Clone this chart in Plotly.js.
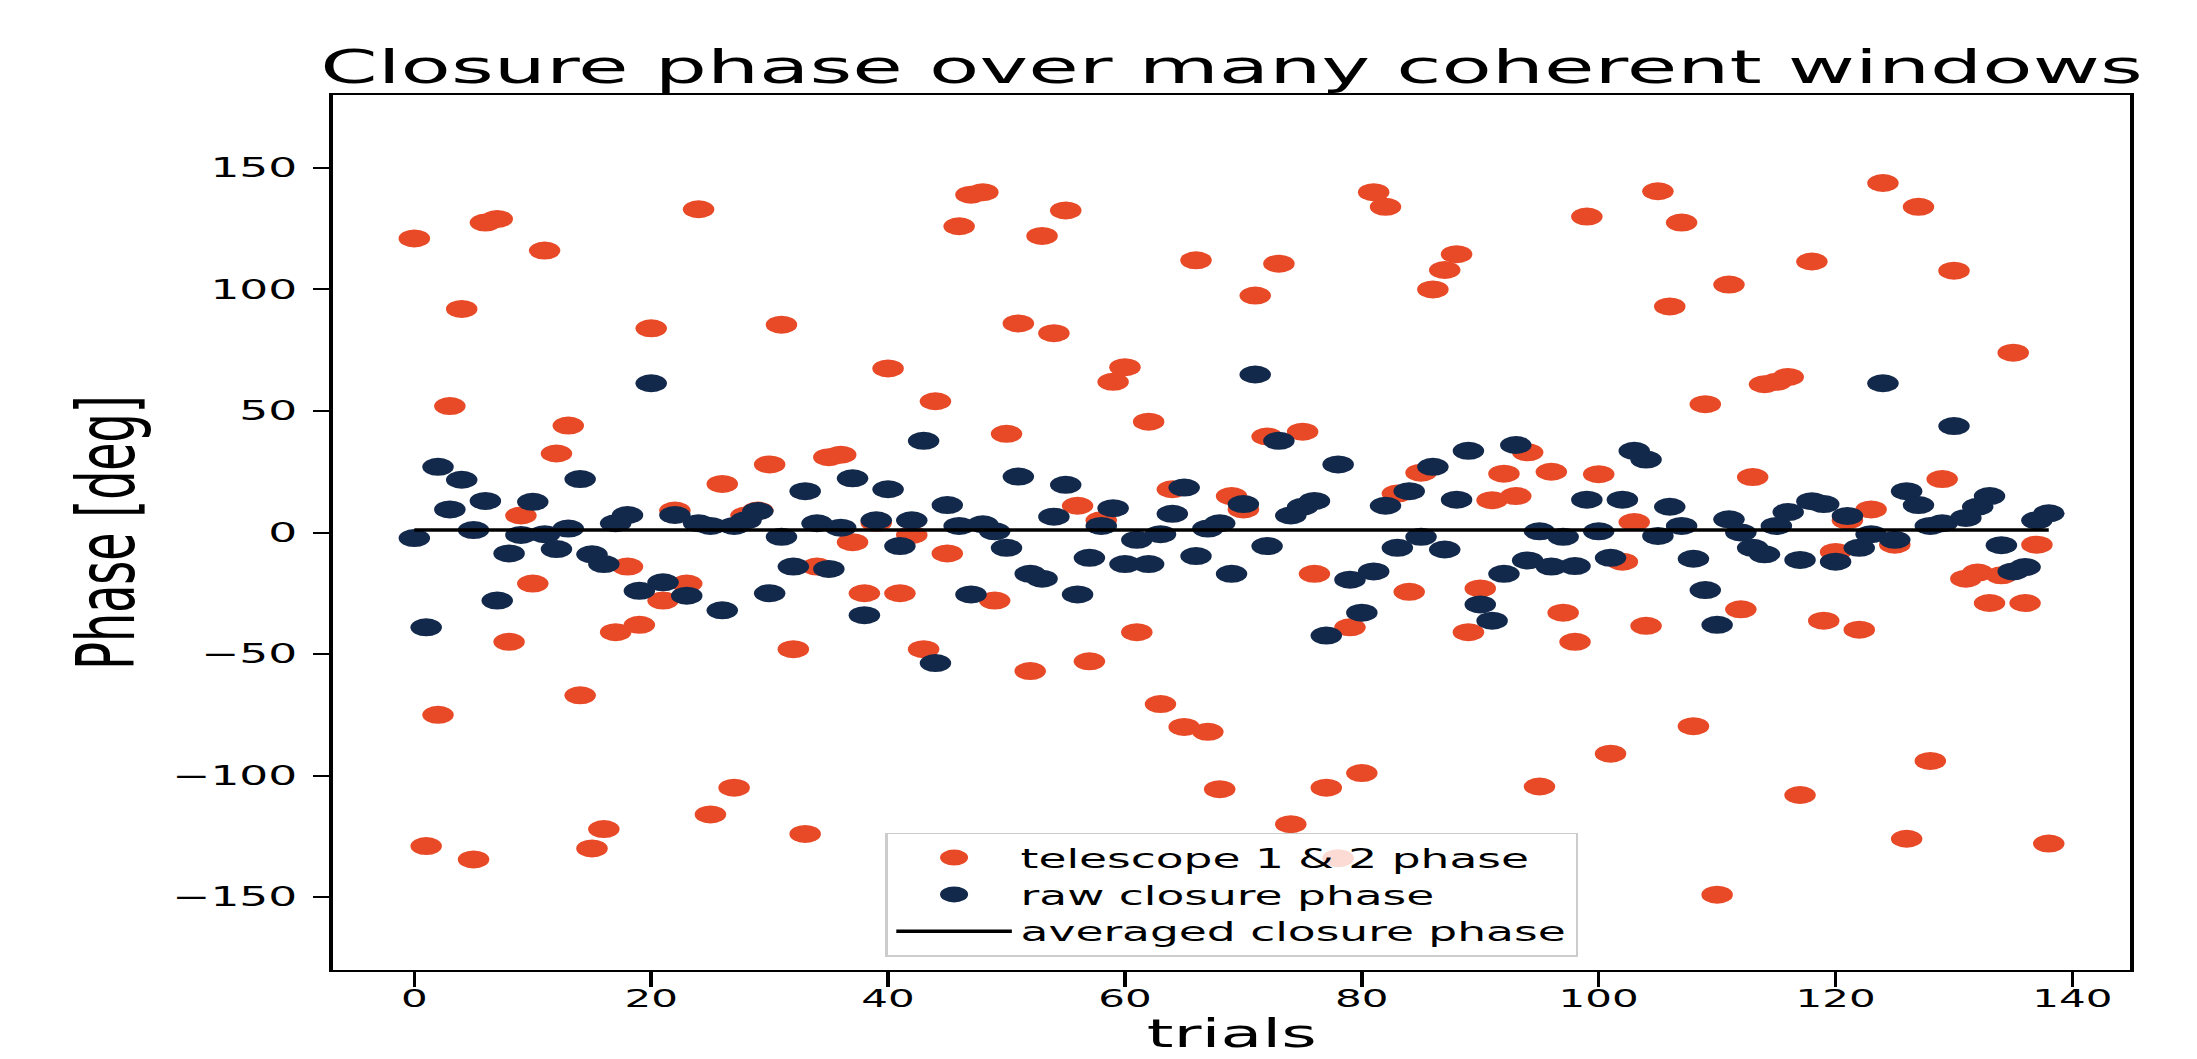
<!DOCTYPE html>
<html>
<head>
<meta charset="utf-8">
<script src="https://cdn.plot.ly/plotly-3.0.1.min.js"></script>
<style>
  html, body { margin: 0; padding: 0; background: #ffffff; }
  #wrap { width: 2197px; height: 1059px; overflow: hidden; position: relative; }
  #chart { width: 1255px; height: 1059px; transform: scaleX(1.7506); transform-origin: 0 0; }
</style>
</head>
<body>
<div id="wrap"><div id="chart"></div></div>
<script>
// ---- data ----
const trials = [
  0,1,2,3,4,5,6,7,8,9,10,11,12,13,14,15,16,17,18,19,
  20,21,22,23,24,25,26,27,28,29,30,31,32,33,34,35,36,37,38,39,
  40,41,42,43,44,45,46,47,48,49,50,51,52,53,54,55,56,57,58,59,
  60,61,62,63,64,65,66,67,68,69,70,71,72,73,74,75,76,77,78,79,
  80,81,82,83,84,85,86,87,88,89,90,91,92,93,94,95,96,97,98,99,
  100,101,102,103,104,105,106,107,108,109,110,111,112,113,114,115,116,117,118,119,
  120,121,122,123,124,125,126,127,128,129,130,131,132,133,134,135,136,137,138
];

const telescope12Phase = [
  121, -129, -75, 52, 92, -134.5, 127.5, 129, -45, 7,
  -21, 116, 32.5, 44, -67, -130, -122, -41, -14, -38,
  84, -28, 9, -21, 133, -116, 20, -105, 7, 9,
  28, 85.5, -48, -124, -14, 31, 32, -4, -25, 4,
  67.5, -25, -1, -48, 54, -8.6, 126, 139, 140, -28,
  40.6, 86, -57, 122, 82, 132.5, 11, -53, 5, 62,
  68, -41, 45.6, -70.6, 17.8, -80, 112, -82, -105.6, 15,
  9.5, 97.5, 39.5, 110.6, -120, 41.5, -17, -105, -134, -39,
  -99, 140, 134, 16, -24.4, 24.6, 100, 108, 114.5, -41,
  -23, 13.3, 24.2, 15, 33, -104.5, 25, -33, -45, 130,
  24, -91, -12, 4.3, -38.4, 140.4, 93, 127.5, -79.7, 52.8,
  -149, 102, -31.6, 22.8, 61, 62, 64, -108, 111.5, -36.3,
  -8, 5, -40, 9.5, 143.8, -5, -126, 134, -94, 22,
  107.7, -19, -16.5, -29, -17.6, 74, -29, -5, -128
];

const rawClosurePhase = [
  -2.3, -39, 27, 9.5, 21.7, 1, 13, -28, -8.6, -1,
  12.6, -0.7, -6.8, 1.6, 22, -9, -13, 3.8, 7.2, -24,
  61.4, -20.5, 7.2, -26, 3.8, 2.7, -32, 2.7, 5, 8.8,
  -25, -1.8, -14, 17, 3.8, -15, 2, 22.3, -34, 5,
  17.8, -5.6, 5, 37.7, -53.7, 11.3, 2.7, -25.5, 3.4, 0.5,
  -6.3, 23, -17, -19, 6.5, 19.6, -25.5, -10.4, 2.7, 10,
  -13, -3, -13, -0.7, 7.7, 18.5, -9.7, 1.6, 3.8, -17,
  11.7, 65, -5.6, 37.7, 7, 10.6, 13, -42.4, 28, -19.4,
  -33, -16, 11, -6.3, 17, -1.8, 27, -7, 13.5, 33.6,
  -29.6, -36.3, -17, 36, -11.5, 0.5, -14, -1.8, -13.8, 13.5,
  0.5, -10.4, 13.5, 33.6, 30, -1.4, 10.6, 2.7, -10.8, -23.7,
  -38, 5.4, 0, -6.3, -9, 2.7, 8.4, -11.3, 12.9, 11.7,
  -12, 6.8, -6.3, -0.7, 61.4, -3, 17, 11.3, 2.7, 3.8,
  43.8, 6, 10.6, 15, -5.2, -16, -14.2, 5, 7.9
];

const avgTrials = [0, 138];
const avgClosurePhase = [1, 1];

const xTickVals = [0, 20, 40, 60, 80, 100, 120, 140];
const yTickVals = [-150, -100, -50, 0, 50, 100, 150];

const seriesNames = ['telescope 1 &amp; 2 phase', 'raw closure phase', 'averaged closure phase'];
const xAxisTitle = 'trials';

// ---- styling ----
const FONT = 'DejaVu Sans, Verdana, sans-serif';
const ORANGE = '#E84A27';
const NAVY = '#13294B';

const traces = [
  {
    type: 'scatter', mode: 'markers', name: seriesNames[0],
    x: trials, y: telescope12Phase,
    marker: { color: ORANGE, size: 18, line: { width: 0 } }
  },
  {
    type: 'scatter', mode: 'markers', name: seriesNames[1],
    x: trials, y: rawClosurePhase,
    marker: { color: NAVY, size: 18, line: { width: 0 } }
  },
  {
    type: 'scatter', mode: 'lines', name: seriesNames[2],
    x: avgTrials, y: avgClosurePhase,
    line: { color: '#000000', width: 3.5 }
  }
];

const layout = {
  width: 1255, height: 1059,
  paper_bgcolor: '#ffffff', plot_bgcolor: '#ffffff',
  margin: { l: 190, r: 38, t: 95, b: 89, pad: 0 },
  font: { family: FONT, color: '#000000', size: 26 },
  title: {
    text: 'Closure phase over many coherent windows',
    font: { family: FONT, size: 47, color: '#000000' },
    x: 0.5, xref: 'paper', xanchor: 'center',
    y: 1, yref: 'paper', yanchor: 'bottom',
    pad: { b: 12 }
  },
  xaxis: {
    range: [-6.9, 144.9],
    tickmode: 'array', tickvals: xTickVals,
    ticks: 'outside', ticklen: 15, tickwidth: 2, tickcolor: '#000',
    ticklabelstandoff: -9,
    tickfont: { family: FONT, size: 24, color: '#000' },
    showline: true, linecolor: '#000', linewidth: 2, mirror: true,
    showgrid: false, zeroline: false, automargin: false
  },
  yaxis: {
    range: [-180, 180],
    tickmode: 'array', tickvals: yTickVals,
    ticks: 'outside', ticklen: 9, tickwidth: 2, tickcolor: '#000',
    ticklabelstandoff: 4,
    tickfont: { family: FONT, size: 26, color: '#000' },
    showline: true, linecolor: '#000', linewidth: 2, mirror: true,
    showgrid: false, zeroline: false, automargin: false,
    title: { text: 'Phase [deg]', font: { family: FONT, size: 46, color: '#000' }, standoff: 7 }
  },
  annotations: [
    {
      text: xAxisTitle, showarrow: false,
      xref: 'paper', yref: 'paper', x: 0.5, y: -0.1,
      xanchor: 'center', yanchor: 'bottom',
      font: { family: FONT, size: 39, color: '#000' }
    }
  ],
  showlegend: true,
  legend: {
    x: 0.5, xanchor: 'center', xref: 'paper',
    y: 0.0152, yanchor: 'bottom', yref: 'paper',
    bgcolor: 'rgba(255,255,255,0.8)', bordercolor: '#cccccc', borderwidth: 1.5,
    font: { family: FONT, size: 26, color: '#000' },
    itemwidth: 66, traceorder: 'normal'
  }
};

Plotly.newPlot('chart', traces, layout, { displayModeBar: false, staticPlot: true });
</script>
</body>
</html>
